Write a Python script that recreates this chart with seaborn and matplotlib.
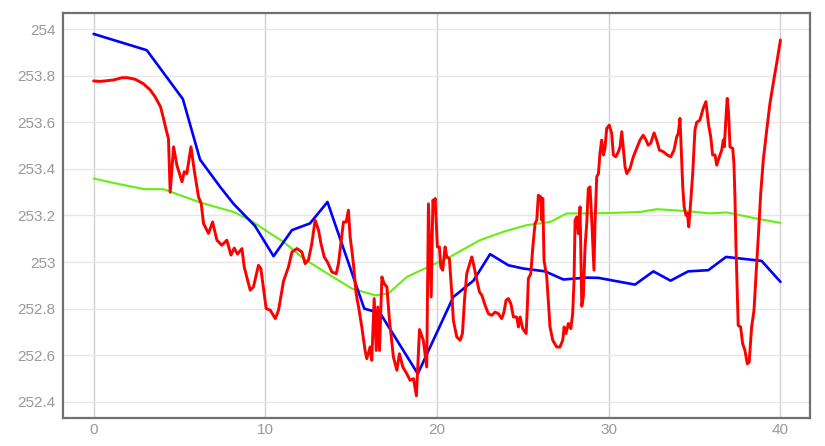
import matplotlib
matplotlib.use("Agg")
import matplotlib.pyplot as plt
import numpy as np
import pandas as pd
import seaborn as sns

# red series (noisy)
red_x = [0, 0.39, 1.15, 1.67, 1.96, 2.43, 2.9, 3.3, 3.59, 3.9, 4.06, 4.23, 4.36, 4.46,
         4.66, 4.85, 5.15, 5.28, 5.43, 5.67, 5.86, 6.11, 6.27, 6.4, 6.69, 6.93, 7.18,
         7.47, 7.76, 8.0, 8.19, 8.38, 8.64, 8.77, 9.12, 9.31, 9.6, 9.74, 10.05, 10.29,
         10.58, 10.77, 11.06, 11.35, 11.55, 11.84, 12.13, 12.32, 12.51, 12.71, 12.9,
         13.1, 13.24, 13.43, 13.62, 13.88, 14.13, 14.26, 14.4, 14.55, 14.71, 14.84,
         14.94, 15.04, 15.13, 15.29, 15.43, 15.62, 15.81, 15.91, 16.1, 16.2, 16.34,
         16.46, 16.55, 16.65, 16.79, 16.92, 17.08, 17.23, 17.46, 17.66, 17.81, 18.01,
         18.24, 18.43, 18.63, 18.8, 18.98, 19.2, 19.4, 19.5, 19.66, 19.76, 19.83, 19.89,
         20.02, 20.14, 20.22, 20.33, 20.47, 20.57, 20.72, 20.86, 20.95, 21.15, 21.35,
         21.48, 21.6, 21.73, 21.93, 22.03, 22.16, 22.32, 22.47, 22.61, 22.8, 22.99,
         23.19, 23.38, 23.57, 23.77, 23.9, 24.02, 24.16, 24.3, 24.45, 24.64, 24.74,
         24.84, 24.99, 25.19, 25.26, 25.32, 25.46, 25.58, 25.71, 25.81, 25.9, 26.04,
         26.1, 26.16, 26.23, 26.39, 26.58, 26.74, 26.97, 27.16, 27.32, 27.4, 27.51,
         27.65, 27.79, 27.9, 27.98, 28.04, 28.14, 28.23, 28.33, 28.43, 28.52, 28.62,
         28.72, 28.81, 28.91, 29.01, 29.14, 29.2, 29.3, 29.4, 29.49, 29.59, 29.69,
         29.78, 29.88, 30.03, 30.17, 30.27, 30.41, 30.56, 30.66, 30.76, 30.85, 30.95,
         31.05, 31.24, 31.43, 31.66, 31.82, 32.01, 32.17, 32.3, 32.44, 32.64, 32.79,
         32.95, 33.18, 33.41, 33.61, 33.8, 33.96, 34.05, 34.15, 34.21, 34.31, 34.39,
         34.5, 34.58, 34.66, 34.73, 34.89, 35.02, 35.12, 35.31, 35.5, 35.66, 35.8,
         35.94, 36.05, 36.19, 36.29, 36.44, 36.58, 36.67, 36.73, 36.83, 36.9, 36.98,
         37.06, 37.22, 37.29, 37.35, 37.41, 37.49, 37.54, 37.68, 37.8, 37.93, 38.07,
         38.18, 38.32, 38.46, 38.57, 38.71, 38.85, 39.0, 39.2, 39.39, 39.58, 39.78, 40.0]
red_y = [253.778, 253.776, 253.782, 253.792, 253.792, 253.785, 253.766, 253.739, 253.709,
         253.666, 253.62, 253.567, 253.53, 253.30, 253.495, 253.416, 253.345, 253.388,
         253.38, 253.495, 253.395, 253.28, 253.25, 253.166, 253.123, 253.172, 253.094,
         253.072, 253.094, 253.03, 253.06, 253.034, 253.058, 252.979, 252.879, 252.893,
         252.986, 252.972, 252.8, 252.793, 252.757, 252.793, 252.918, 252.979, 253.043,
         253.058, 253.043, 252.993, 253.008, 253.08, 253.18, 253.137, 253.08, 253.022,
         253.0, 252.957, 252.95, 252.993, 253.08, 253.172, 253.172, 253.223, 253.108,
         253.05, 252.993, 252.865, 252.807, 252.721, 252.62, 252.585, 252.635, 252.578,
         252.843, 252.62, 252.807, 252.62, 252.936, 252.907, 252.893, 252.75, 252.592,
         252.535, 252.606, 252.549, 252.52, 252.492, 252.499, 252.425, 252.71, 252.664,
         252.549, 253.25, 252.85, 253.266, 253.252, 253.273, 253.065, 253.065, 252.979,
         252.965, 253.065, 253.022, 253.015, 252.865, 252.75, 252.678, 252.664, 252.693,
         252.836, 252.95, 253.0, 253.022, 252.979, 252.922, 252.872, 252.857, 252.814,
         252.778, 252.771, 252.785, 252.778, 252.757, 252.785, 252.836, 252.843, 252.821,
         252.764, 252.764, 252.721, 252.764, 252.714, 252.693, 252.807, 252.929, 252.95,
         253.065, 253.166, 253.18, 253.287, 253.28, 253.18, 253.273, 253.008, 252.936,
         252.721, 252.664, 252.635, 252.635, 252.664, 252.721, 252.693, 252.736, 252.714,
         252.778, 252.922, 253.18, 253.194, 253.122, 253.237, 252.81, 252.85, 253.065,
         253.166, 253.316, 253.323, 253.18, 252.965, 253.166, 253.366, 253.38, 253.467,
         253.524, 253.46, 253.488, 253.574, 253.588, 253.553, 253.46, 253.452, 253.474,
         253.495, 253.56, 253.488, 253.409, 253.38, 253.402, 253.452, 253.495, 253.524,
         253.545, 253.524, 253.502, 253.51, 253.555, 253.524, 253.481, 253.474, 253.46,
         253.452, 253.481, 253.538, 253.553, 253.617, 253.51, 253.323, 253.237, 253.201,
         253.209, 253.151, 253.215, 253.38, 253.567, 253.6, 253.61, 253.66, 253.689,
         253.596, 253.538, 253.46, 253.46, 253.416, 253.452, 253.481, 253.524, 253.495,
         253.624, 253.703, 253.639, 253.495, 253.488, 253.424, 253.28, 253.065, 252.85,
         252.728, 252.721, 252.649, 252.621, 252.563, 252.57, 252.721, 252.793, 252.936,
         253.108, 253.295, 253.438, 253.567, 253.682, 253.768, 253.854, 253.954]

# blue series (piecewise)
blue_x = [0, 3.1, 5.2, 6.2, 7.4, 8.15, 9.4, 10.48, 11.55, 12.6, 13.62, 15.76, 16.69,
          18.88, 20.95, 22.12, 23.09, 24.16, 25.03, 26.29, 27.36, 28.72, 29.4, 31.53,
          32.6, 33.6, 34.63, 35.8, 36.83, 38.9, 40.0]
blue_y = [253.98, 253.91, 253.70, 253.44, 253.32, 253.25, 253.155, 253.025, 253.137,
          253.166, 253.258, 252.80, 252.78, 252.52, 252.85, 252.92, 253.034, 252.986,
          252.972, 252.96, 252.925, 252.933, 252.932, 252.903, 252.96, 252.92, 252.96,
          252.965, 253.022, 253.005, 252.915]

# green series (smooth)
green_x = [0, 1.15, 2.97, 4.07, 6.2, 8.15, 9.12, 10.28, 11.06, 12.22, 13.78, 15.04,
           16.4, 17.17, 18.24, 19.4, 20.75, 22.5, 23.86, 25.2, 26.58, 27.56, 28.72,
           30.27, 31.82, 32.79, 34.34, 35.9, 36.87, 38.6, 40.0]
green_y = [253.359, 253.34, 253.313, 253.313, 253.256, 253.215, 253.18, 253.123, 253.087,
           253.015, 252.943, 252.886, 252.857, 252.865, 252.936, 252.976, 253.022, 253.094,
           253.13, 253.158, 253.172, 253.209, 253.209, 253.211, 253.215, 253.227, 253.22,
           253.209, 253.213, 253.187, 253.168]

x_ticks = [0, 10, 20, 30, 40]
y_ticks = [252.4, 252.6, 252.8, 253.0, 253.2, 253.4, 253.6, 253.8, 254.0]


def main():
    sns.set_style("white")
    plt.rcParams['font.family'] = ['Liberation Sans', 'DejaVu Sans']

    fig = plt.figure(figsize=(8.25, 4.46), dpi=100)
    ax = fig.add_axes([0.0764, 0.0628, 0.9054, 0.9081])

    sns.lineplot(x=green_x, y=green_y, color='#66ee11', linewidth=1.5, estimator=None, ax=ax)
    sns.lineplot(x=blue_x, y=blue_y, color='#0000ff', linewidth=1.9, estimator=None, ax=ax)
    sns.lineplot(x=red_x, y=red_y, color='#ff0000', linewidth=2.1, estimator=None, ax=ax)

    ax.set_xlim(-1.78, 41.72)
    ax.set_ylim(252.33, 254.07)
    ax.set_xticks(x_ticks)
    ax.set_yticks(y_ticks)
    ax.set_yticklabels([f"{v:g}" for v in y_ticks])

    ax.xaxis.grid(True, color='#d0d0d0', linewidth=1.0)
    ax.yaxis.grid(True, color='#e6e6e6', linewidth=1.0)
    ax.set_axisbelow(True)

    ax.tick_params(axis='both', length=0, labelsize=11, labelcolor='#999999')
    ax.tick_params(axis='y', pad=5.5)
    ax.tick_params(axis='x', pad=3.5)

    for side in ['left', 'bottom', 'top', 'right']:
        ax.spines[side].set_visible(True)
        ax.spines[side].set_color('#707070')
        ax.spines[side].set_linewidth(1.6)

    plt.savefig('out.png', dpi=100)


if __name__ == "__main__":
    main()
